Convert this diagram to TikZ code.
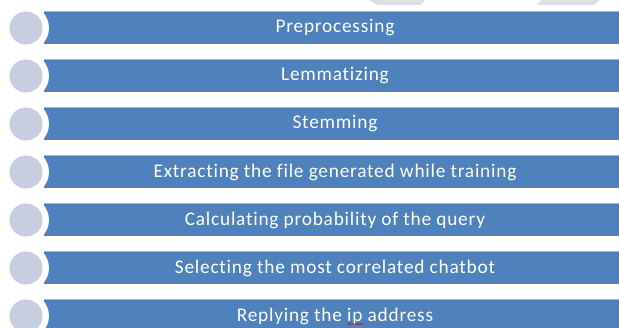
\documentclass[tikz,border=0pt]{standalone}
\usepackage{fontspec}
\setmainfont{Carlito}[Ligatures=NoCommon, LetterSpace=4]
\usetikzlibrary{decorations.pathmorphing}

\definecolor{barblue}{HTML}{4F81BD}
\definecolor{barline}{HTML}{9DB6D9}
\definecolor{dotgray}{HTML}{C6CEE0}
\definecolor{markgray}{HTML}{DCE0E4}

\tikzset{
	stepbar/.style={rectangle, fill=barblue, text=white, minimum width=436.5pt, minimum height=24pt, inner sep=0pt, font=\fontsize{14.5}{16}\selectfont},
	gapring/.style={circle, fill=white, minimum size=34.5pt, inner sep=0pt},
	stepdot/.style={circle, fill=dotgray, minimum size=24.8pt, inner sep=0pt}
}

\begin{document}
\begin{tikzpicture}[x=0.75pt, y=-0.75pt]
	\useasboundingbox (0,0) rectangle (619,328);
	
	% Faint marks at the top edge
	\fill[markgray] (369,0) -- (425,0) -- (420,5) -- (377,5) -- cycle;
	\fill[markgray] (541,0) -- (600,0) -- (594,5) -- (537,5) -- cycle;
	
	% Bars
	\node[stepbar] (prep) at (335, 28) {Preprocessing};
	\node[stepbar] (lemma) at (335, 76) {Lemmatizing};
	\node[stepbar] (stem) at (335, 124) {Stemming};
	\node[stepbar] (extract) at (335, 172) {Extracting the file generated while training};
	\node[stepbar] (prob) at (335, 220) {Calculating probability of the query};
	\node[stepbar] (select) at (335, 268) {Selecting the most correlated chatbot};
	\node[stepbar] (reply) at (335, 316) {Replying the ip address};
	
	% Light top edges
	\foreach \b in {prep, lemma, stem, extract, prob, select, reply}
		\draw[barline, line width=0.8pt] (\b.north west) -- (\b.north east);
	
	% Circles with white gap cut into the bars
	\foreach \b/\y in {prep/28, lemma/76, stem/124, extract/172, prob/220, select/268, reply/316} {
		\node[gapring] (gap-\b) at (26, \y) {};
		\node[stepdot] (dot-\b) at (26, \y) {};
	}
	
	% Spelling mark under "ip"
	\draw[red!80!black, line width=0.4pt, decorate, decoration={snake, amplitude=0.4pt, segment length=2pt}] (347,324) -- (363,324);
	
\end{tikzpicture}
\end{document}
